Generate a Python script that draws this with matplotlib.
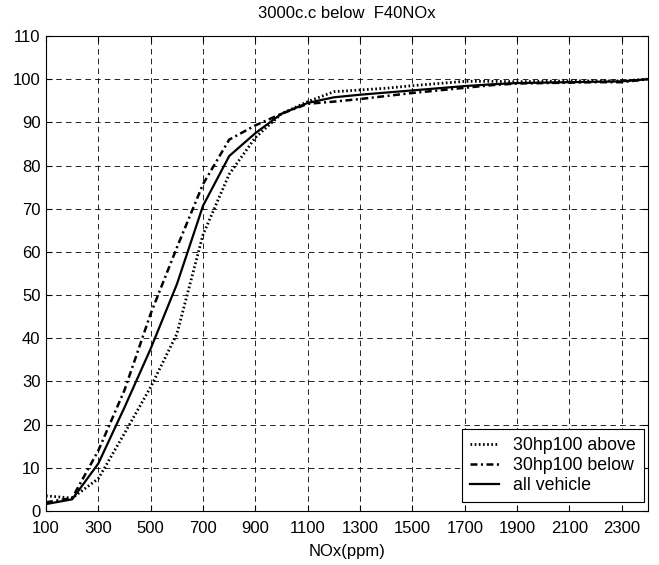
import matplotlib
matplotlib.use("Agg")
import matplotlib.pyplot as plt

plt.rcParams['font.family'] = ['Liberation Sans', 'DejaVu Sans']
plt.rcParams['lines.scale_dashes'] = False

nox = [100, 200, 300, 400, 500, 600, 700, 800, 900, 1000, 1100, 1200,
       1300, 1400, 1500, 1600, 1700, 1800, 1900, 2000, 2100, 2200, 2300, 2400]
above = [3.5, 3.0, 7.5, 18.0, 28.7, 41.0, 64.0, 78.0, 86.5, 92.0, 94.8, 97.1,
         97.5, 97.9, 98.5, 99.0, 99.5, 99.5, 99.4, 99.5, 99.6, 99.6, 99.6, 100.0]
below = [2.0, 3.0, 14.0, 28.0, 45.7, 61.0, 75.7, 86.0, 89.3, 92.0, 94.3, 94.8,
         95.4, 96.1, 96.8, 97.4, 98.0, 98.6, 99.0, 99.1, 99.2, 99.3, 99.3, 100.0]
all_vehicle = [1.6, 2.7, 11.0, 24.0, 37.6, 52.5, 70.7, 82.2, 87.5, 92.0, 94.5, 95.8,
               96.4, 96.9, 97.4, 97.9, 98.4, 98.8, 99.1, 99.2, 99.3, 99.4, 99.5, 100.0]

xticks = list(range(100, 2400, 200))
yticks = list(range(0, 111, 10))

fs = 12

fig = plt.figure(figsize=(6.59, 5.65), dpi=100)
ax = fig.add_axes([0.0698, 0.0956, 0.9135, 0.8407])

ax.plot(nox, above, color='k', linestyle=(0, (1.2, 1.8)), lw=2.0, label='30hp100 above')
ax.plot(nox, below, color='k', linestyle=(0, (5, 2.5, 1.5, 2.5)), lw=1.8, label='30hp100 below')
ax.plot(nox, all_vehicle, color='k', linestyle='-', lw=1.6, label='all vehicle')

ax.set_xlim(100, 2400)
ax.set_ylim(0, 110)
ax.set_xticks(xticks)
ax.set_yticks(yticks)
ax.tick_params(direction='in', top=True, right=True, length=4, labelsize=fs)
ax.tick_params(axis='x', pad=7)
ax.tick_params(axis='y', pad=4)
ax.grid(True, color='k', linestyle=(0, (4, 3)), lw=0.6)
for s in ax.spines.values():
    s.set_linewidth(0.8)

ax.set_title('3000c.c below  F40NOx', fontsize=fs, pad=13)
ax.set_xlabel('NOx(ppm)', fontsize=fs, labelpad=6)

leg = ax.legend(loc='lower right', bbox_to_anchor=(0.993, 0.019), borderaxespad=0,
                fontsize=12.8, fancybox=False, framealpha=1, edgecolor='k',
                handlelength=1.6, handletextpad=0.8, labelspacing=0.17, borderpad=0.45)
leg.get_frame().set_linewidth(0.8)

fig.savefig('out.png', dpi=100)
